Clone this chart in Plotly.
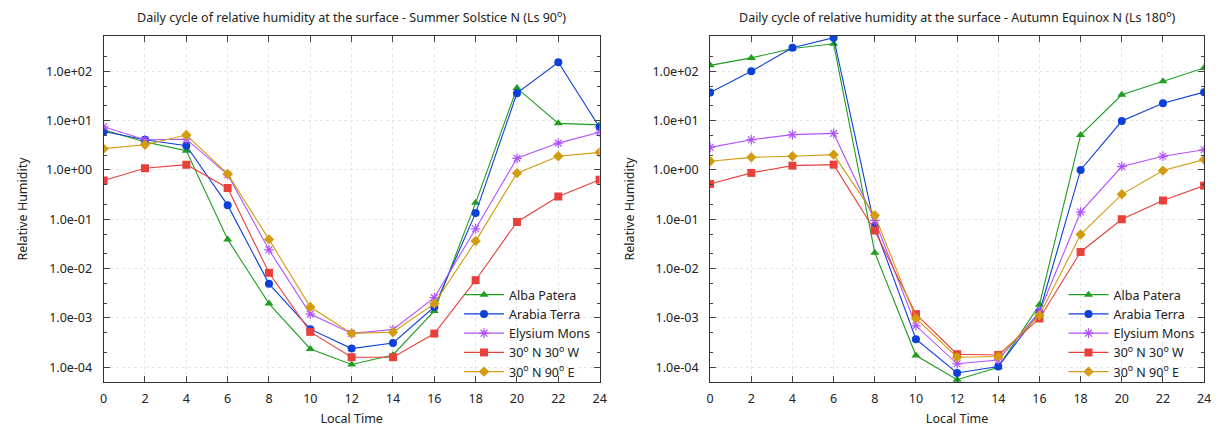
import plotly.graph_objects as go
from plotly.subplots import make_subplots

hours = [0, 2, 4, 6, 8, 10, 12, 14, 16, 18, 20, 22, 24]

series_names = ["Alba Patera", "Arabia Terra", "Elysium Mons",
                "30<sup>o</sup> N 30<sup>o</sup> W", "30<sup>o</sup> N 90<sup>o</sup> E"]

# Summer Solstice N (Ls 90)
sol_alba = [6.5, 3.7, 2.46, 0.039, 0.00195, 0.000234, 0.000113, 0.000177, 0.00138, 0.215, 45.7, 8.8, 8.2]
sol_arabia = [6.0, 4.1, 3.1, 0.193, 0.0049, 0.00059, 0.000238, 0.00031, 0.00166, 0.133, 36.0, 153.0, 7.3]
sol_elysium = [7.5, 4.1, 4.2, 0.80, 0.024, 0.00119, 0.000484, 0.00058, 0.00257, 0.064, 1.72, 3.5, 5.8]
sol_30w = [0.61, 1.08, 1.28, 0.43, 0.0082, 0.00052, 0.000159, 0.000159, 0.00048, 0.0058, 0.088, 0.29, 0.63]
sol_90e = [2.7, 3.25, 5.1, 0.83, 0.039, 0.00166, 0.000484, 0.00051, 0.00194, 0.036, 0.86, 1.89, 2.27]

# Autumn Equinox N (Ls 180)
equ_alba = [132.0, 187.0, 290.0, 361.0, 0.021, 0.000172, 0.0000556, 0.0001, 0.00185, 5.1, 33.4, 63.0, 117.0]
equ_arabia = [37.2, 100.0, 300.0, 480.0, 0.07, 0.00037, 0.000076, 0.000103, 0.0013, 1.0, 9.8, 22.6, 37.8]
equ_elysium = [2.87, 4.1, 5.2, 5.5, 0.095, 0.00069, 0.000117, 0.00014, 0.00132, 0.14, 1.17, 1.89, 2.57]
equ_30w = [0.52, 0.87, 1.22, 1.28, 0.059, 0.00119, 0.000183, 0.000177, 0.00097, 0.0217, 0.1, 0.24, 0.48]
equ_90e = [1.5, 1.8, 1.89, 2.04, 0.12, 0.00097, 0.000159, 0.000164, 0.00113, 0.049, 0.32, 0.97, 1.62]

y_tick_vals = [1e-4, 1e-3, 1e-2, 1e-1, 1e0, 1e1, 1e2]
y_tick_text = ["1.0e-04", "1.0e-03", "1.0e-02", "1.0e-01", "1.0e+00", "1.0e+01", "1.0e+02"]
y_minor_vals = [2e-5, 5e-5, 2e-4, 5e-4, 2e-3, 5e-3, 2e-2, 5e-2, 0.2, 0.5, 2, 5, 20, 50, 200, 500]

titles = ["Daily cycle of relative humidity at the surface - Summer Solstice N (Ls 90<sup>o</sup>)",
          "Daily cycle of relative humidity at the surface - Autumn Equinox N (Ls 180<sup>o</sup>)"]

colors = ["#1f9e1f", "#0d3fd9", "#b152ff", "#e8403a", "#d29c0e"]
symbols = ["triangle-up", "circle", "asterisk-open", "square", "diamond"]
sizes = [8, 8, 8, 8, 8]

FONT = "Noto Sans"
TXT = "#222222"
FS = 12.5

# page body has an 8px default margin: figure is sized/positioned to compensate
W, H = 1215, 419
OFF = 8

fig = make_subplots(rows=1, cols=2, horizontal_spacing=0.09)

panels = [
    [sol_alba, sol_arabia, sol_elysium, sol_30w, sol_90e],
    [equ_alba, equ_arabia, equ_elysium, equ_30w, equ_90e],
]
legends = ["legend", "legend2"]

for p, data in enumerate(panels):
    for i, vals in enumerate(data):
        fig.add_trace(go.Scatter(
            x=hours, y=vals, mode="lines+markers", name=series_names[i],
            line=dict(color=colors[i], width=1.1),
            marker=dict(symbol=symbols[i], size=sizes[i], color=colors[i],
                        line=dict(color=colors[i], width=1.2 if i == 2 else 0)),
            legend=legends[p],
        ), row=1, col=p + 1)

x_domains = [[(100.5 - OFF) / W, (601 - OFF) / W], [(712.5 - OFF) / W, (1211 - OFF) / W]]
y_domain = [1 - (382 - OFF) / H, 1 - (36 - OFF) / H]

axis_common = dict(
    showline=True, linecolor="#333333", linewidth=1, mirror="ticks",
    ticks="inside", ticklen=6, tickcolor="#444444",
    showgrid=True, gridcolor="#e6e6e6", griddash="dot", gridwidth=1,
    zeroline=False, tickfont=dict(family=FONT, size=FS, color=TXT),
)

for c in (1, 2):
    fig.update_xaxes(axis_common, row=1, col=c, range=[0, 24], dtick=2, tick0=0,
                     domain=x_domains[c - 1], ticklabelstandoff=5,
                     title=dict(text="Local Time", font=dict(family=FONT, size=FS, color=TXT), standoff=8))
    fig.update_yaxes(axis_common, row=1, col=c, type="log",
                     range=[-4.301, 2.716], domain=y_domain,
                     tickvals=y_tick_vals, ticktext=y_tick_text, ticklabelstandoff=8,
                     minor=dict(ticks="inside", ticklen=3, tickvals=y_minor_vals,
                                tickcolor="#444444", showgrid=False),
                     title=dict(text="Relative Humidity", font=dict(family=FONT, size=FS, color=TXT), standoff=15))

for k, t in enumerate(titles):
    xd = x_domains[k]
    fig.add_annotation(text=t, x=(xd[0] + xd[1]) / 2, y=1 - (17 - OFF) / H, xref="paper", yref="paper",
                       xanchor="center", yanchor="middle", showarrow=False,
                       font=dict(family=FONT, size=FS, color=TXT))

legend_common = dict(
    xanchor="right", yanchor="bottom", bgcolor="rgba(255,255,255,0)",
    font=dict(family=FONT, size=FS, color=TXT), tracegroupgap=0,
    itemwidth=40,
)
fig.update_layout(
    width=W, height=H,
    margin=dict(l=0, r=0, t=0, b=0),
    paper_bgcolor="white", plot_bgcolor="white",
    showlegend=True,
    legend=dict(legend_common, x=x_domains[0][1] - 0.003, y=y_domain[0] - 0.012),
    legend2=dict(legend_common, x=x_domains[1][1] - 0.003, y=y_domain[0] - 0.012),
)

fig.write_html("out.html")
